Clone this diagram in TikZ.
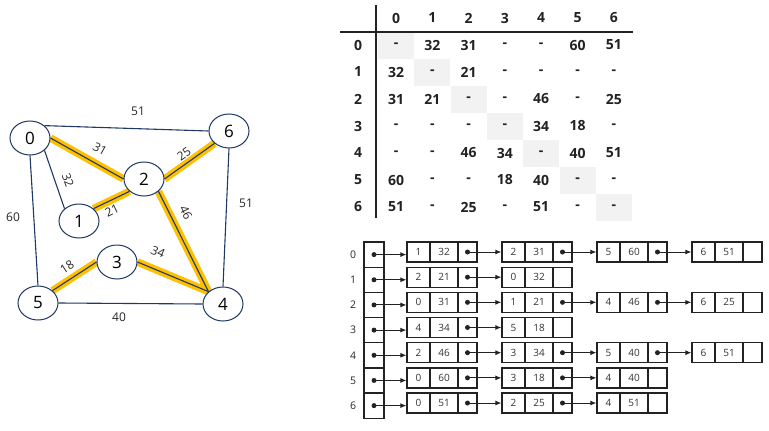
\documentclass[tikz,border=0pt]{standalone}
\usepackage{fontspec}
\setmainfont{Open Sans}
\usetikzlibrary{shapes.geometric,arrows.meta}
\pgfdeclarelayer{background}
\pgfsetlayers{background,main}
\definecolor{navy}{HTML}{203864}
\definecolor{gold}{HTML}{FFC000}
\definecolor{diag}{HTML}{F2F2F2}
\definecolor{ink}{HTML}{222222}
\newcommand\lnode[5]{%
  \node[cellA] (#1a) at ({#2+11.5},#3) {#4};
  \node[cellB] (#1b) at ({#2+37},#3) {#5};
  \node[cellC] (#1c) at ({#2+60.5},#3) {};
}
\begin{document}
\begin{tikzpicture}[x=1pt,y=-1pt,
  vtx/.style={ellipse, draw=navy, line width=1pt, fill=white, minimum width=40pt, minimum height=34pt, inner sep=0pt, font=\fontsize{17}{20}\selectfont},
  edge/.style={navy, line width=1.1pt},
  hl/.style={gold, line width=7.5pt},
  elab/.style={font=\fontsize{12}{14}\selectfont, text=black!85, inner sep=0pt},
  mtx/.style={font=\bfseries\fontsize{14}{16}\selectfont, text=ink, inner sep=0pt},
  lbl/.style={font=\fontsize{10.5}{12}\selectfont, text=black!85, inner sep=0pt},
  cell/.style={draw=ink, line width=1.3pt, minimum height=20pt, inner sep=0pt, font=\fontsize{10}{12}\selectfont, text=black!80},
  cellA/.style={cell, minimum width=23pt},
  cellB/.style={cell, minimum width=28pt},
  cellC/.style={cell, minimum width=19pt},
  arr/.style={draw=ink, minimum width=20pt, minimum height=25.17pt, line width=1.3pt, inner sep=0pt},
  ptr/.style={ink, line width=0.9pt, -{Latex[length=6pt,width=5pt]}}
]
\useasboundingbox (0,0) rectangle (769,431);

% ---------------- graph ----------------
\node[vtx] (v0) at (30,138) {0};
\node[vtx] (v6) at (229,131) {6};
\node[vtx] (v2) at (144,179) {2};
\node[vtx] (v1) at (79,221) {1};
\node[vtx] (v3) at (117,262) {3};
\node[vtx] (v5) at (38,303) {5};
\node[vtx] (v4) at (223,304) {4};

\begin{pgfonlayer}{background}
  \draw[hl] (v0.east) -- (v2.west);
  \draw[hl] (v2.east) -- (v6.south west);
  \draw[hl] (v1.north east) -- (v2.south west);
  \draw[hl] (v2.south east) -- (v4.north west);
  \draw[hl] (v3.east) -- (v4.north west);
  \draw[hl] (v3.west) -- (v5.north east);
  \draw[edge] (v0.north east) -- (v6.west);
  \draw[edge] (v0.east) -- (v2.west);
  \draw[edge] (v0.south east) -- (v1.north west);
  \draw[edge] (v0.south) -- (v5.north);
  \draw[edge] (v2.east) -- (v6.south west);
  \draw[edge] (v1.north east) -- (v2.south west);
  \draw[edge] (v2.south east) -- (v4.north west);
  \draw[edge] (v6.south) -- (v4.north);
  \draw[edge] (v3.east) -- (v4.north west);
  \draw[edge] (v3.west) -- (v5.north east);
  \draw[edge] (v5.east) -- (v4.west);
\end{pgfonlayer}

\node[elab] (l06) at (138,111) {51};
\node[elab, rotate=-29] (l02) at (100,149) {31};
\node[elab, rotate=35] (l26) at (184,154) {25};
\node[elab, rotate=-70] (l01) at (68,180) {32};
\node[elab, rotate=26] (l12) at (112,211) {21};
\node[elab, rotate=-64] (l24) at (186,213) {46};
\node[elab] (l05) at (13,217) {60};
\node[elab] (l64) at (246,203) {51};
\node[elab, rotate=33] (l35) at (67,267) {18};
\node[elab, rotate=-24] (l34) at (158,252) {34};
\node[elab] (l54) at (119,317) {40};

% ---------------- matrix ----------------
\foreach \i in {0,...,6} {
  \fill[diag] ({396+36.3*\i-18},{45+27*\i-13.5}) rectangle ++(36,27);
  \node[mtx] (h\i) at ({396+36.3*\i},18) {\i};
  \node[mtx] (r\i) at (358,{45+27*\i}) {\i};
}
\draw[ink, line width=1.6pt] (340,32) -- (633,32);
\draw[ink, line width=1.6pt] (376,5) -- (376,218);
\foreach \r/\vals in {0/{-,32,31,-,-,60,51},1/{32,-,21,-,-,-,-},2/{31,21,-,-,46,-,25},3/{-,-,-,-,34,18,-},4/{-,-,46,34,-,40,51},5/{60,-,-,18,40,-,-},6/{51,-,25,-,51,-,-}} {
  \foreach \v [count=\c from 0] in \vals {
    \node[mtx] (m\r c\c) at ({396+36.3*\c},{45+27*\r}) {\v};
  }
}

% ---------------- adjacency list ----------------
\foreach \i in {0,...,6} {
  \node[arr] (a\i) at (374,{254.6+25.17*\i}) {};
  \node[lbl] (n\i) at (353,{254.6+25.17*\i}) {\i};
}
\foreach \r/\lst in {0/{1/32,2/31,5/60,6/51},1/{2/21,0/32},2/{0/31,1/21,4/46,6/25},3/{4/34,5/18},4/{2/46,3/34,5/40,6/51},5/{0/60,3/18,4/40},6/{0/51,2/25,4/51}} {
  \foreach \k/\w [count=\j from 0] in \lst {
    \lnode{b\r n\j}{407+95*\j}{252+25.17*\r}{\k}{\w}
    \ifnum\j>0
      \pgfmathtruncatemacro\prev{\j-1}
      \fill[ink] (b\r n\prev c.center) circle (2.5);
      \draw[ptr] (b\r n\prev c.center) -- (b\r n\j a.west);
    \fi
  }
  \fill[ink] (a\r.center) circle (2.5);
  \draw[ptr] (a\r.center) -- (a\r.center -| b\r n0a.west);
}
\end{tikzpicture}
\end{document}
